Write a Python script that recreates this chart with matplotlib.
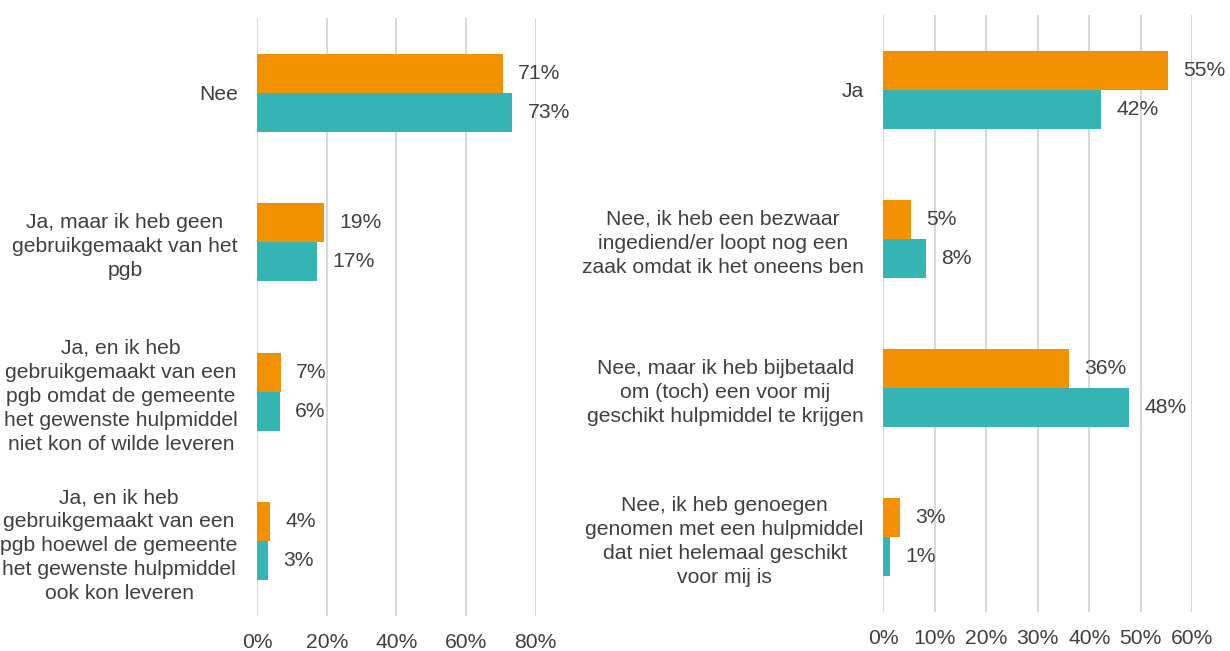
import numpy as np
import matplotlib
matplotlib.use("Agg")
import matplotlib.pyplot as plt
from matplotlib.ticker import FuncFormatter

plt.rcParams['font.family'] = ['Liberation Sans', 'DejaVu Sans']

# left chart
left_cats = ["Nee",
             "Ja, maar ik heb geen\ngebruikgemaakt van het\npgb",
             "Ja, en ik heb\ngebruikgemaakt van een\npgb omdat de gemeente\nhet gewenste hulpmiddel\nniet kon of wilde leveren",
             "Ja, en ik heb\ngebruikgemaakt van een\npgb hoewel de gemeente\nhet gewenste hulpmiddel\nook kon leveren"]
left_orange = [0.706, 0.192, 0.068, 0.037]
left_teal = [0.733, 0.171, 0.065, 0.031]
left_ticks = [0, 0.2, 0.4, 0.6, 0.8]

# right chart
right_cats = ["Ja",
              "Nee, ik heb een bezwaar\ningediend/er loopt nog een\nzaak omdat ik het oneens ben",
              "Nee, maar ik heb bijbetaald\nom (toch) een voor mij\ngeschikt hulpmiddel te krijgen",
              "Nee, ik heb genoegen\ngenomen met een hulpmiddel\ndat niet helemaal geschikt\nvoor mij is"]
right_orange = [0.553, 0.054, 0.360, 0.032]
right_teal = [0.423, 0.083, 0.477, 0.013]
right_ticks = [0, 0.1, 0.2, 0.3, 0.4, 0.5, 0.6]

ORANGE = '#F39200'
TEAL = '#34B5B3'
TXT = '#404040'
GRID = '#D9D9D9'
FS = 15.2
bh = 0.262

fig = plt.figure(figsize=(12.3, 6.51), dpi=100)
ax1 = fig.add_axes([0.2092, 0.0538, 0.2263, 0.9186])
ax2 = fig.add_axes([0.7181, 0.0599, 0.2512, 0.9170])


def draw(ax, cats, orange, teal, ticks):
    y = np.arange(len(cats))
    b1 = ax.barh(y - bh / 2, orange, height=bh, color=ORANGE, zorder=3)
    b2 = ax.barh(y + bh / 2, teal, height=bh, color=TEAL, zorder=3)
    for bars, vals in [(b1, orange), (b2, teal)]:
        for bar, v in zip(bars, vals):
            ax.annotate(f"{round(v * 100):.0f}%",
                        (bar.get_width(), bar.get_y() + bar.get_height() / 2),
                        xytext=(11, 0), textcoords='offset points',
                        ha='left', va='center', fontsize=FS, color=TXT,
                        annotation_clip=False)
    ax.set_xlim(0, ticks[-1])
    ax.set_ylim(len(cats) - 0.5, -0.5)
    ax.set_xticks(ticks)
    ax.xaxis.set_major_formatter(FuncFormatter(lambda v, p: f"{v * 100:.0f}%"))
    ax.set_yticks(y)
    ax.set_yticklabels(cats)
    for lbl in ax.get_yticklabels():
        lbl.set_multialignment('center')
        lbl.set_linespacing(1.33)
    ax.tick_params(axis='y', length=0, pad=14, labelsize=FS, labelcolor=TXT)
    ax.tick_params(axis='x', length=0, pad=12, labelsize=FS, labelcolor=TXT)
    ax.grid(axis='x', color=GRID, linewidth=1.5, zorder=0)
    ax.set_axisbelow(True)
    for s in ax.spines.values():
        s.set_visible(False)


draw(ax1, left_cats, left_orange, left_teal, left_ticks)
draw(ax2, right_cats, right_orange, right_teal, right_ticks)

fig.savefig("out.png", dpi=100)
